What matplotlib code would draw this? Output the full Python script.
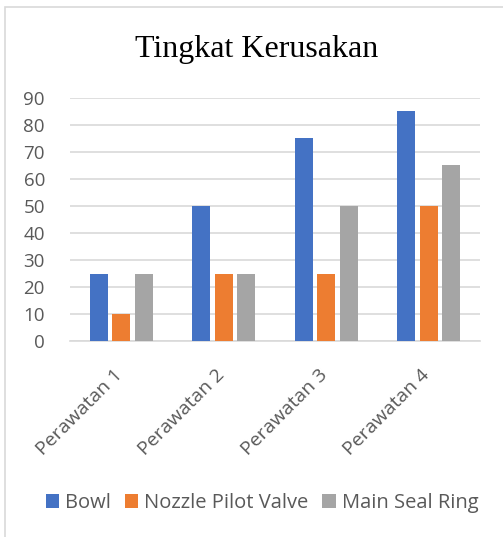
import matplotlib

matplotlib.use("Agg")
import matplotlib.pyplot as plt
import matplotlib.transforms as mtransforms
import numpy as np
from matplotlib.patches import Rectangle

categories = ["Perawatan 1", "Perawatan 2", "Perawatan 3", "Perawatan 4"]
series_names = ["Bowl", "Nozzle Pilot Valve", "Main Seal Ring"]
bowl = [25, 50, 75, 85]
nozzle = [10, 25, 25, 50]
seal = [25, 25, 50, 65]
colors = ["#4472c4", "#ed7d31", "#a5a5a5"]
yticks = list(range(0, 100, 10))

W, H = 503, 537
fig = plt.figure(figsize=(W / 100, H / 100), dpi=100)
fig.patch.set_facecolor("white")

# chart border (cut off on right/bottom like the screenshot)
fig.patches.append(Rectangle((5 / W, -0.1), 1.2, 1 - 7 / H + 0.1, transform=fig.transFigure,
                             fill=False, edgecolor="#d9d9d9", linewidth=1.2))

ax = fig.add_axes([70 / W, 1 - 341 / H, 410 / W, 243 / H])
x = np.arange(len(categories))
width = 0.175
step = 0.22
for i, (vals, name) in enumerate(zip([bowl, nozzle, seal], series_names)):
    ax.bar(x + (i - 1) * step, vals, width, color=colors[i], label=name, zorder=3)

ax.set_xlim(-0.5, len(categories) - 0.5)
ax.set_ylim(0, 90)
ax.set_yticks(yticks)
ax.grid(axis="y", color="#d9d9d9", linewidth=1.2, zorder=0)
for side in ["top", "right", "left"]:
    ax.spines[side].set_visible(False)
ax.spines["bottom"].set_color("#d9d9d9")
ax.spines["bottom"].set_linewidth(1.2)
ax.tick_params(axis="both", length=0, labelcolor="#595959")
ax.tick_params(axis="y", pad=18, labelsize=13.5)
ax.tick_params(axis="x", pad=18, labelsize=14)
ax.set_xticks(x)
ax.set_xticklabels(categories, rotation=45, ha="right", rotation_mode="anchor")
shift = mtransforms.ScaledTranslation(-8 / 100, 0, fig.dpi_scale_trans)
for lbl in ax.get_xticklabels():
    lbl.set_transform(lbl.get_transform() + shift)
for lbl in ax.get_xticklabels() + ax.get_yticklabels():
    lbl.set_family("Open Sans")

fig.text(257 / W, 1 - 49 / H, "Tingkat Kerusakan", ha="center", va="center",
         fontsize=23, family="Liberation Serif", color="black")

fig.legend(loc="center", bbox_to_anchor=(262 / W, 1 - 503 / H), ncol=3, frameon=False,
           prop={"family": "Open Sans", "size": 14.5}, labelcolor="#595959",
           handlelength=0.65, handleheight=0.65, handletextpad=0.3, columnspacing=0.7)

fig.savefig("out.png", dpi=100)
